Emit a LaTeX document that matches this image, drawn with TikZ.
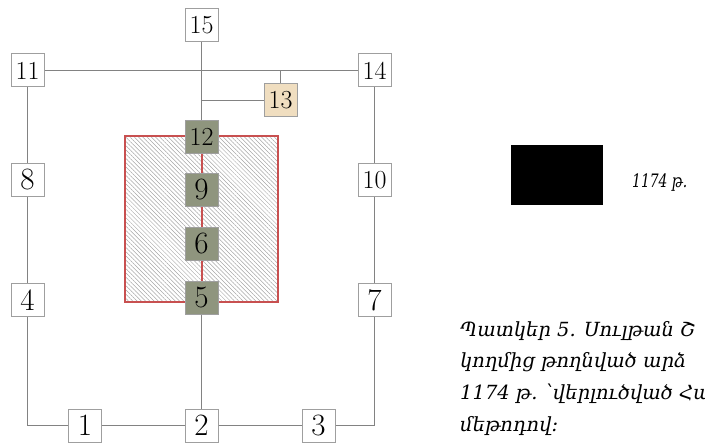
\documentclass[tikz,border=0pt]{standalone}
\usepackage{fontspec}
\newfontfamily\armfont{DejaVu Serif}
\newfontfamily\armnarrow[FakeStretch=0.75]{DejaVu Serif}
\usetikzlibrary{patterns.meta}

\definecolor{khaki}{RGB}{143,149,126}
\definecolor{beige}{RGB}{240,222,192}
\definecolor{brick}{RGB}{200,80,80}
\definecolor{wirecol}{RGB}{130,130,130}

\begin{document}
\begin{tikzpicture}[x=1pt, y=-1pt,
  cell/.style={draw=gray!75, fill=white, line width=1pt,
               minimum width=33pt, minimum height=33pt, inner sep=0pt,
               font=\fontsize{31}{31}\selectfont},
  cellw/.style={cell, font=\fontsize{26}{26}\selectfont},
  core/.style={fill=khaki},
  annex/.style={fill=beige},
  wire/.style={draw=wirecol, line width=1.1pt},
  corewire/.style={draw=brick, line width=2pt},
  armtext/.style={font=\armfont\itshape\fontsize{19.5}{31.7}\selectfont}]

  \useasboundingbox (0,0) rectangle (705,444);

  % excavated zone
  \draw[brick, line width=1.8pt, pattern color=gray!70,
        pattern={Lines[angle=-45, distance=3pt, line width=0.5pt]}]
    (125,136) rectangle (278,302);

  \node[cellw] (n15) at (201.5,25) {15};
  \node[cellw] (n11) at (27.5,70.5) {11};
  \node[cellw] (n14) at (374.5,70.5) {14};
  \node[cellw, annex] (n13) at (280.5,100.5) {13};
  \node[cellw, core] (n12) at (201.5,137) {12};
  \node[cell, core] (n9) at (201.5,190) {9};
  \node[cell, core] (n6) at (201.5,244) {6};
  \node[cell, core] (n5) at (201.5,297.5) {5};
  \node[cell] (n8) at (27.5,180) {8};
  \node[cellw] (n10) at (374.5,180) {10};
  \node[cell] (n4) at (27.5,300) {4};
  \node[cell] (n7) at (374.5,300) {7};
  \node[cell] (n1) at (85,425.5) {1};
  \node[cell] (n2) at (201.5,425.5) {2};
  \node[cell] (n3) at (318.5,425.5) {3};

  \coordinate (tee) at (n15 |- n13);
  \draw[wire] (n15) -- (n12);
  \draw[wire] (n11) -- (n14);
  \draw[wire] (tee) -- (n13);
  \draw[wire] (n13) -- (n13 |- n11);
  \draw[wire] (n11) -- (n8) -- (n4);
  \draw[wire] (n4) |- (n1);
  \draw[wire] (n1) -- (n2) -- (n3);
  \draw[wire] (n3) -| (n7);
  \draw[wire] (n7) -- (n10) -- (n14);
  \draw[wire] (n5) -- (n2);
  \draw[corewire] (n12) -- (n9) -- (n6) -- (n5);

  % legend
  \node[fill=black, minimum width=92pt, minimum height=60pt, inner sep=0pt]
    (swatch) at (557,175) {};
  \node[font=\armnarrow\itshape\fontsize{18.5}{18.5}\selectfont,
        anchor=base west, inner sep=0pt] (year) at (632,187) {1174 թ.};

  % caption, cut at the page edge
  \begin{scope}
    \clip (0,0) rectangle (705,444);
    \node[armtext, anchor=north west, align=left, inner sep=0pt] (caption)
      at (460,321) {Պատկեր 5. Սուլթան Շ\\կողմից թողնված արձ\\1174 թ. ՝վերլուծված Հա\\մեթոդով:};
  \end{scope}
\end{tikzpicture}
\end{document}
